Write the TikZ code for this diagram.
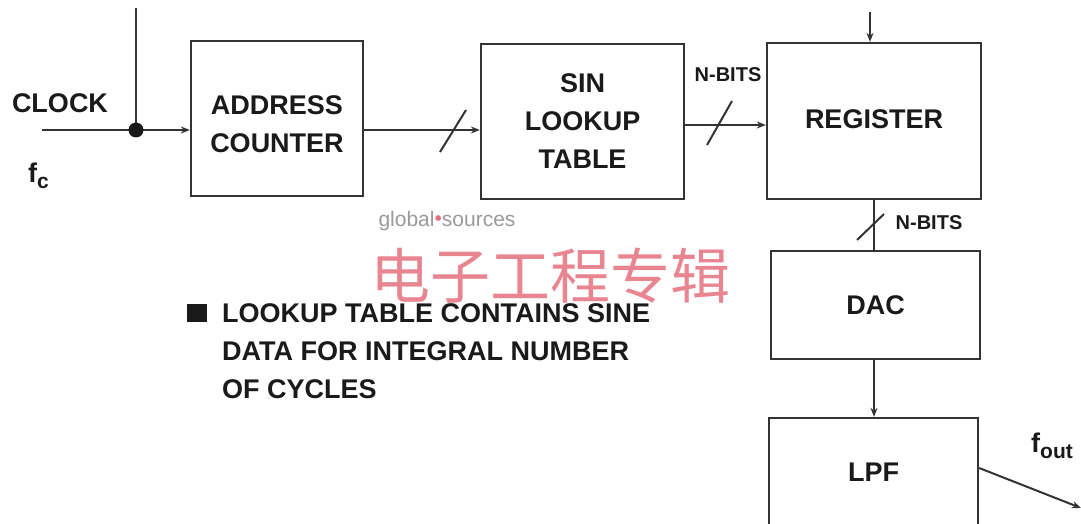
\documentclass[tikz,border=0pt]{standalone}
\usepackage{fontspec}
\setmainfont{Liberation Sans}
\newfontfamily\cjk{Noto Sans CJK SC}
\usetikzlibrary{arrows.meta}
\definecolor{ink}{HTML}{1A1A1A}
\definecolor{boxline}{HTML}{333333}
\definecolor{wmred}{HTML}{E5707E}
\definecolor{wmgray}{HTML}{9A9A9A}
\tikzset{
  blk/.style={draw=boxline, line width=2.3pt, fill=white, inner sep=0pt},
  blktxt/.style={align=center, text=ink, font=\fontsize{27}{38}\selectfont\bfseries, inner sep=0pt},
  lbl/.style={text=ink, font=\fontsize{27}{30}\selectfont\bfseries, inner sep=0pt},
  small/.style={text=ink, font=\fontsize{20}{22}\selectfont\bfseries, inner sep=0pt},
  wire/.style={draw=boxline, line width=2pt},
  arr/.style={wire, -{Stealth[length=9pt,width=7pt]}},
  slash/.style={draw=boxline, line width=2pt}
}
\newcommand{\subtxt}[1]{\raisebox{-6pt}{\fontsize{21}{22}\selectfont #1}}
\begin{document}
\begin{tikzpicture}[x=1pt,y=-1pt]
\useasboundingbox (0,0) rectangle (1081,524);
\clip (0,0) rectangle (1081,524);
\fill[white] (0,0) rectangle (1081,524);

% watermark
\node[text=wmgray, font=\fontsize{21}{22}\selectfont, inner sep=0pt] (wm1) at (447,221) {global{\color{wmred}\raisebox{1pt}{\textbullet}}sources};
\node[text=wmred, font=\cjk\fontsize{60}{64}\selectfont, inner sep=0pt, opacity=0.85] (wm2) at (550,276) {电子工程专辑};

% blocks
\node[blk, minimum width=172pt, minimum height=155pt] (addr) at (277,118.5) {};
\node[blktxt] (addrtxt) at (277,124) {ADDRESS\\COUNTER};
\node[blk, blktxt, minimum width=203pt, minimum height=155pt] (sin) at (582.5,121.5) {SIN\\LOOKUP\\TABLE};
\node[blk, blktxt, minimum width=214pt, minimum height=156pt] (reg) at (874,121) {\raisebox{3pt}{REGISTER}};
\node[blk, blktxt, minimum width=209pt, minimum height=108pt] (dac) at (875.5,305) {DAC};
\node[blk, blktxt, minimum width=209pt, minimum height=108pt] (lpf) at (873.5,472) {LPF};

% clock input
\coordinate (clkin) at (42,130);
\coordinate (dot) at (136,130);
\coordinate (clktop) at (136,8);
\draw[wire] (clktop) -- (dot);
\draw[arr] (clkin) -- (clkin -| addr.west);
\fill[ink] (dot) circle (7.5pt);
\node[lbl] (clock) at (60,103) {CLOCK};
\node[lbl, anchor=west] (fc) at (28,176) {f\subtxt{c}};

% counter -> sin
\draw[arr] (addr.east |- dot) -- (sin.west |- dot);
\draw[slash] (440,152) -- (466,110);

% sin -> register
\coordinate (busn) at (0,125);
\draw[arr] (sin.east |- busn) -- (reg.west |- busn);
\draw[slash] (707,145) -- (732,101);
\node[small] (nb1) at (728,75) {N-BITS};

% register top input
\coordinate (regin) at (870,12);
\draw[arr] (regin) -- (regin |- reg.north);

% register -> dac
\draw[wire] (reg.south) -- (reg.south |- dac.north);
\draw[slash] (857,240) -- (884,214);
\node[small] (nb2) at (929,223) {N-BITS};

% dac -> lpf
\draw[arr] (reg.south |- dac.south) -- (reg.south |- lpf.north);

% output
\coordinate (out) at (1081,508);
\draw[arr] (lpf.east |- 0,468) -- (out);
\node[lbl, anchor=west] (fout) at (1031,446) {f\subtxt{out}};

% note
\fill[ink] (187,304) rectangle (207,322);
\node[lbl, anchor=north west, align=left, font=\fontsize{27}{38}\selectfont\bfseries] (note) at (222,303) {LOOKUP TABLE CONTAINS SINE\\DATA FOR INTEGRAL NUMBER\\OF CYCLES};
\end{tikzpicture}
\end{document}
